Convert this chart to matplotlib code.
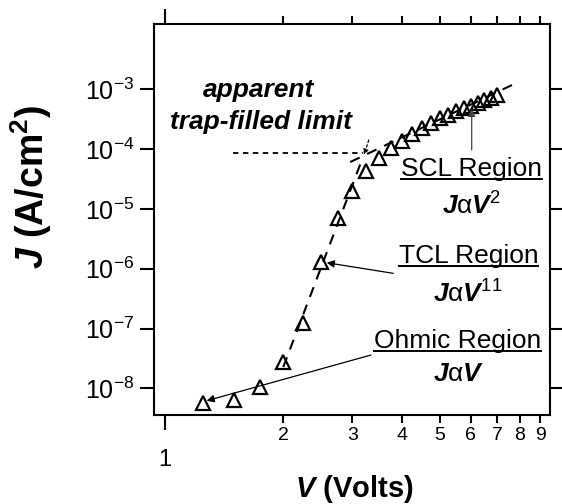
import matplotlib
matplotlib.use('Agg')
import matplotlib.pyplot as plt
from matplotlib.ticker import FixedLocator, FixedFormatter, NullLocator
from matplotlib.lines import Line2D

plt.rcParams['font.family'] = ['Liberation Sans', 'DejaVu Sans']
plt.rcParams['mathtext.fontset'] = 'custom'
plt.rcParams['mathtext.rm'] = 'Liberation Sans'
plt.rcParams['mathtext.it'] = 'Liberation Sans:italic'
plt.rcParams['mathtext.bf'] = 'Liberation Sans:bold'
plt.rcParams['mathtext.bfit'] = 'Liberation Sans:bold:italic'
plt.rcParams['mathtext.sf'] = 'Liberation Sans'

# ---------------- data ----------------
voltage = [1.25, 1.5, 1.75, 2.0, 2.25, 2.5, 2.75, 3.0, 3.25, 3.5, 3.75, 4.0,
           4.25, 4.5, 4.75, 5.0, 5.25, 5.5, 5.75, 6.0, 6.25, 6.5, 6.75, 7.0]
current_density = [5.6e-9, 6.4e-9, 1.04e-8, 2.8e-8, 1.25e-7, 1.29e-6, 7.05e-6,
                   2.03e-5, 4.31e-5, 7.1e-5, 1.04e-4, 1.36e-4, 1.79e-4, 2.25e-4,
                   2.73e-4, 3.25e-4, 3.72e-4, 4.26e-4, 4.78e-4, 5.36e-4, 6.01e-4,
                   6.62e-4, 7.29e-4, 8.04e-4]

tcl_fit_v = [2.0, 3.17]
tcl_fit_j = [2.27e-8, 6.6e-5]
scl_fit_v = [2.96, 7.82]
scl_fit_j = [6.08e-5, 1.27e-3]
tfl_v = [1.49, 3.19]
tfl_j = [8.7e-5, 8.7e-5]

x_major_ticks = [1]
x_major_labels = ['1']
x_minor_ticks = [2, 3, 4, 5, 6, 7, 8, 9]
x_minor_labels = ['2', '3', '4', '5', '6', '7', '8', '9']
y_ticks = [1e-8, 1e-7, 1e-6, 1e-5, 1e-4, 1e-3]
y_labels = [r'$10^{-8}$', r'$10^{-7}$', r'$10^{-6}$', r'$10^{-5}$', r'$10^{-4}$', r'$10^{-3}$']

# ---------------- figure ----------------
fig = plt.figure(figsize=(5.62, 5.04), dpi=100)
ax = fig.add_axes([154/562, 1-415/504, 396/562, 391/504])
ax.set_xscale('log')
ax.set_yscale('log')
ax.set_xlim(0.938, 9.54)
ax.set_ylim(10**-8.446, 10**-1.908)

ax.plot(tcl_fit_v, tcl_fit_j, color='black', lw=1.5, ls=(0, (5, 4)))
ax.plot(scl_fit_v, scl_fit_j, color='black', lw=1.5, ls=(0, (5, 4)))
ax.plot(tfl_v, tfl_j, color='black', lw=1.3, ls=(0, (3, 2.5)))
ax.plot(voltage, current_density, ls='none', marker='^', ms=9.5, mfc='none',
        mec='black', mew=1.6)

for s in ax.spines.values():
    s.set_linewidth(1.5)

ax.xaxis.set_major_locator(FixedLocator(x_major_ticks))
ax.xaxis.set_major_formatter(FixedFormatter(x_major_labels))
ax.xaxis.set_minor_locator(FixedLocator(x_minor_ticks))
ax.xaxis.set_minor_formatter(FixedFormatter(x_minor_labels))
ax.yaxis.set_major_locator(FixedLocator(y_ticks))
ax.yaxis.set_major_formatter(FixedFormatter(y_labels))
ax.yaxis.set_minor_locator(NullLocator())

ax.tick_params(axis='x', which='major', direction='out', length=10.5, width=1.5,
               top=True, bottom=True, labelsize=17, pad=14)
ax.tick_params(axis='x', which='minor', direction='out', length=5.5, width=1.5,
               top=True, bottom=True, labelsize=14, pad=3.5)
ax.tick_params(axis='y', which='major', direction='out', length=10, width=1.5,
               left=True, right=True, labelsize=18, pad=4)

# axis labels
fig.text(354/562, 1-497/504, r'$\mathbfit{V}$ (Volts)', ha='center', va='baseline',
         fontsize=21, fontweight='bold')
fig.text(31/562, 1-187/504, r'$\mathbfit{J}$ (A/cm$^\mathbf{2}$)', ha='center', va='center',
         fontsize=27, fontweight='bold', rotation=90)

# annotations
ax.text(0.265, 0.813, 'apparent', transform=ax.transAxes, ha='center', va='baseline',
        fontsize=19, fontweight='bold', fontstyle='italic')
ax.text(0.270, 0.731, 'trap-filled limit', transform=ax.transAxes, ha='center', va='baseline',
        fontsize=19, fontweight='bold', fontstyle='italic')

region_texts = []
region_texts.append(ax.text(0.803, 0.610, 'SCL Region', transform=ax.transAxes,
                            ha='center', va='baseline', fontsize=19))
region_texts.append(ax.text(0.794, 0.388, 'TCL Region', transform=ax.transAxes,
                            ha='center', va='baseline', fontsize=19))
region_texts.append(ax.text(0.766, 0.1706, 'Ohmic Region', transform=ax.transAxes,
                            ha='center', va='baseline', fontsize=19))

ax.text(0.802, 0.5115, r'$\mathbfit{J}\mathrm{\alpha}\mathbfit{V}^{2}$', transform=ax.transAxes,
        ha='center', va='baseline', fontsize=19)
ax.text(0.792, 0.287, r'$\mathbfit{J}\mathrm{\alpha}\mathbfit{V}^{11}$', transform=ax.transAxes,
        ha='center', va='baseline', fontsize=19)
ax.text(0.770, 0.0877, r'$\mathbfit{J}\mathrm{\alpha}\mathbfit{V}$', transform=ax.transAxes,
        ha='center', va='baseline', fontsize=19)

arrow_kw = dict(arrowstyle='-|>', lw=0.9, color='black', mutation_scale=11,
                shrinkA=0, shrinkB=0)
ax.annotate('', xy=(6.03, 4.7e-4), xytext=(6.03, 9.7e-5), arrowprops=dict(arrow_kw, color='#444444'))
ax.annotate('', xy=(2.58, 1.26e-6), xytext=(3.81, 8.37e-7), arrowprops=arrow_kw)
ax.annotate('', xy=(1.277, 6.2e-9), xytext=(3.34, 3.6e-8), arrowprops=arrow_kw)
ax.annotate('', xy=(3.21, 8.0e-5), xytext=(3.30, 1.42e-4),
            arrowprops=dict(arrowstyle='-|>', lw=0.9, color='black', mutation_scale=8,
                            shrinkA=0, shrinkB=0, linestyle=(0, (2, 2))))

# underline region texts
fig.canvas.draw()
renderer = fig.canvas.get_renderer()
for t in region_texts:
    bb = t.get_window_extent(renderer)
    xb, yb = ax.transAxes.transform(t.get_position())
    yl = yb - 2.8
    fx0, fy = fig.transFigure.inverted().transform((bb.x0, yl))
    fx1, _ = fig.transFigure.inverted().transform((bb.x1, yl))
    fig.add_artist(Line2D([fx0, fx1], [fy, fy], transform=fig.transFigure,
                          color='black', lw=1.4))

fig.savefig('out.png', dpi=100)
